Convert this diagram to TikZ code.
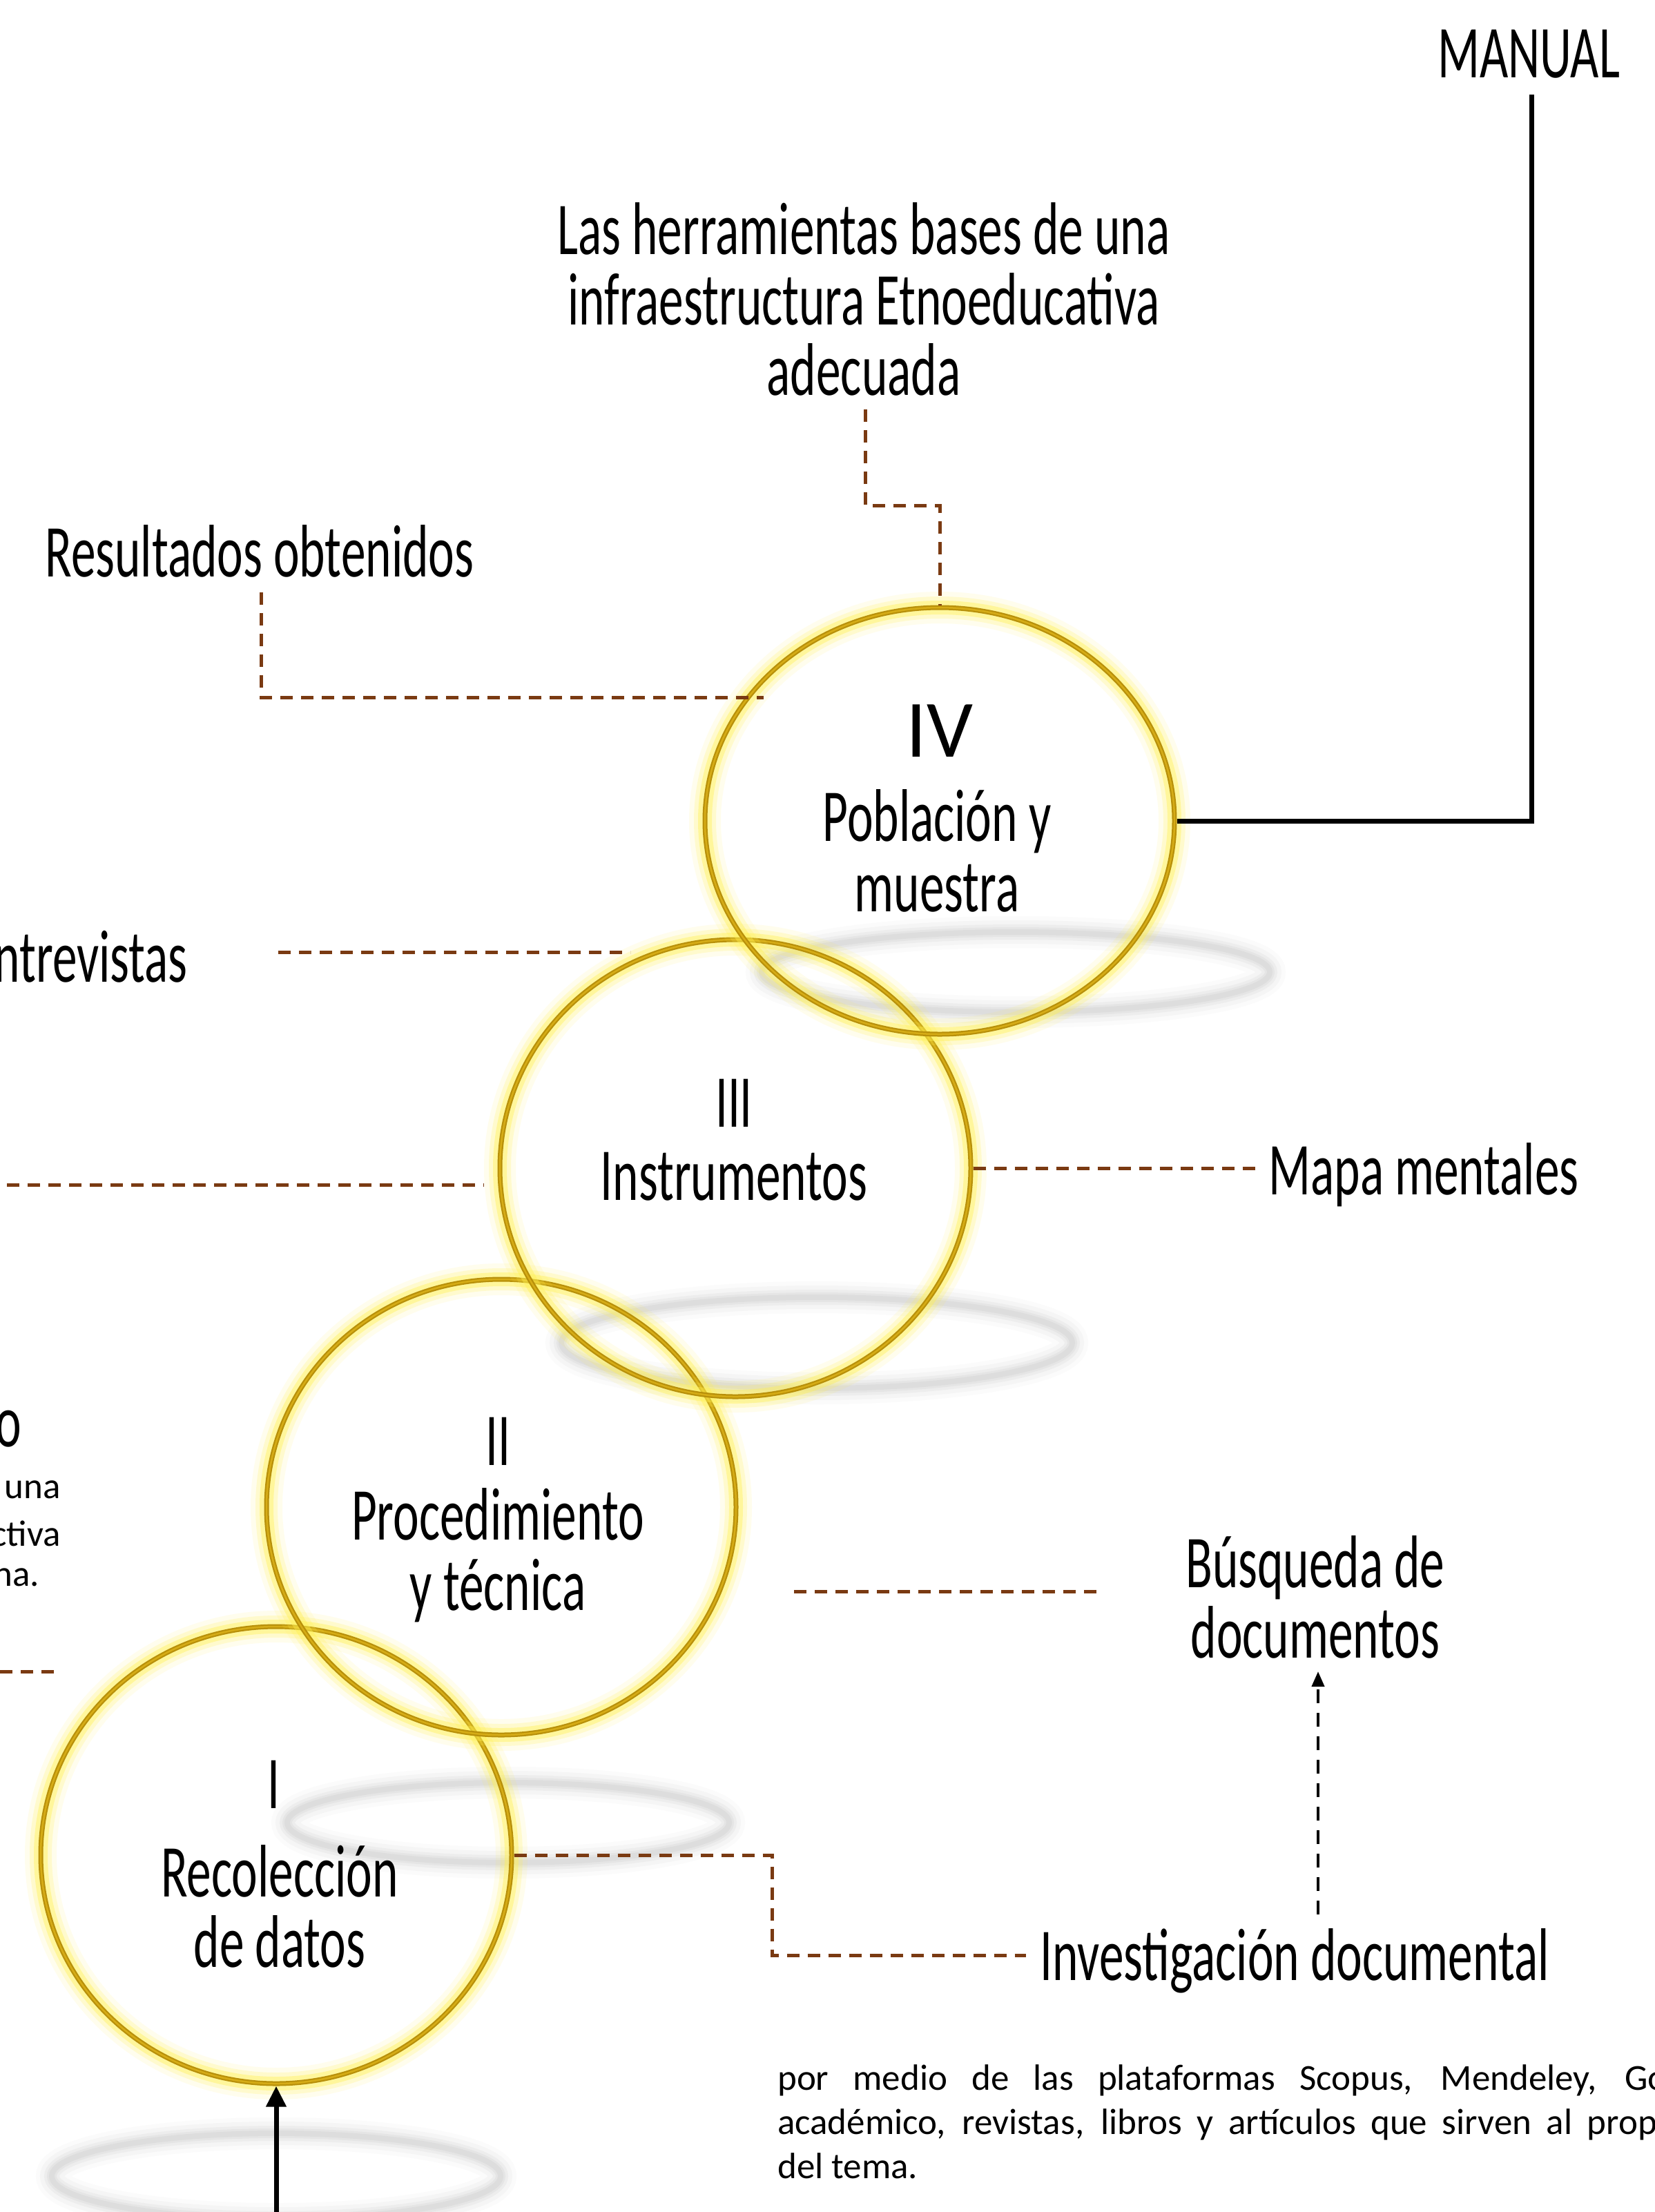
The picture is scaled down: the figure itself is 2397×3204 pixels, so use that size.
\documentclass[tikz,border=0pt]{standalone}
\usepackage{fontspec}
\setmainfont{Carlito}
\newfontfamily\hand[FakeStretch=0.66]{Carlito}
\usetikzlibrary{shapes.geometric,arrows.meta}
\definecolor{ringgold}{HTML}{B8900A}
\definecolor{ringlight}{HTML}{D6AC16}
\definecolor{glowy}{HTML}{FFF050}
\definecolor{brownc}{HTML}{7A3A12}
\definecolor{shadowgray}{HTML}{9A9A9A}
\begin{document}
\begin{tikzpicture}[x=1pt,y=-1pt,
  handtxt/.style={font=\hand\fontsize{108}{102}\selectfont, align=center, inner sep=0pt, text=black},
  numtxt/.style={font=\fontsize{118}{118}\selectfont, inner sep=0pt},
  smalltxt/.style={font=\fontsize{53}{64}\selectfont, inner sep=0pt},
  ringnode/.style={ellipse, inner sep=0pt, draw=ringgold, line width=7pt,
     preaction={draw=glowy, line width=46pt, draw opacity=0.10},
     preaction={draw=glowy, line width=32pt, draw opacity=0.20},
     preaction={draw=glowy, line width=20pt, draw opacity=0.40},
     postaction={draw=ringlight, line width=2.5pt}},
  shadowring/.style={draw=shadowgray, line width=8pt, draw opacity=0.10,
     preaction={draw=shadowgray, line width=46pt, draw opacity=0.04},
     preaction={draw=shadowgray, line width=34pt, draw opacity=0.06},
     preaction={draw=shadowgray, line width=22pt, draw opacity=0.08},
     preaction={draw=shadowgray, line width=14pt, draw opacity=0.09}},
  brownline/.style={draw=brownc, line width=5pt, dash pattern=on 18pt off 12pt},
  blackline/.style={draw=black, line width=7pt}
]
\fill[white] (0,0) rectangle (2397,3204);
\useasboundingbox (0,0) rectangle (2397,3204);
\clip (0,0) rectangle (2397,3204);

% shadows
\draw[shadowring] (1471,1408) ellipse [x radius=368, y radius=58];
\draw[shadowring] (1183,1945) ellipse [x radius=370, y radius=66];
\draw[shadowring] (736,2640) ellipse [x radius=320, y radius=58];
\draw[shadowring] (400,3152) ellipse [x radius=325, y radius=62];

% rings
\node[ringnode, minimum width=682pt, minimum height=662pt] (c1) at (400,2687) {};
\node[ringnode, minimum width=680pt, minimum height=660pt] (c2) at (726,2183) {};
\node[ringnode, minimum width=682pt, minimum height=662pt] (c3) at (1065,1692) {};
\node[ringnode, minimum width=680pt, minimum height=618pt] (c4) at (1361,1189) {};

% texts
\node[handtxt] (manual) at (2214,78) {MANUAL};
\node[handtxt] (herr) at (1251,433) {Las herramientas bases de una\\infraestructura Etnoeducativa\\adecuada};
\node[handtxt] (res) at (376,798) {Resultados obtenidos};
\node[handtxt, anchor=east] (entr) at (272,1386) {Entrevistas};
\node[handtxt, anchor=east] (otxt) at (31,2070) {o};
\node[smalltxt, anchor=east] (sm1) at (88,2158) {una};
\node[smalltxt, anchor=east] (sm2) at (88,2221) {ctiva};
\node[smalltxt, anchor=east] (sm3) at (57,2285) {na.};

\node[numtxt] (n4) at (1361,1059) {IV};
\node[handtxt] (t4) at (1357,1232) {Población y\\muestra};
\node[handtxt] (n3) at (1063,1598) {III};
\node[handtxt] (t3) at (1063,1704) {Instrumentos};
\node[handtxt] (n2) at (721,2088) {II};
\node[handtxt] (t2) at (721,2253) {Procedimiento\\y técnica};
\node[handtxt] (n1) at (396,2585) {I};
\node[handtxt] (t1) at (405,2761) {Recolección\\de datos};

\node[handtxt] (mapa) at (2062,1702) {Mapa mentales};
\node[handtxt] (busq) at (1905,2313) {Búsqueda de\\documentos};
\node[handtxt] (inv) at (1875,2840) {Investigación documental};
\node[anchor=north west, inner sep=0pt, text width=1380pt, align=justify,
      font=\fontsize{53}{64}\selectfont] (para) at (1126,2990)
  {por medio de las plataformas Scopus, Mendeley, Google\linebreak
   académico, revistas, libros y artículos que sirven al propósito\linebreak
   del tema.};

% connector points
\coordinate (h1) at (1253,593);
\coordinate (h2) at (1253,732);
\coordinate (h3) at (1361,732);
\coordinate (r1) at (378,858);
\coordinate (r2) at (1106,1010);
\coordinate (e1) at (403,1379);
\coordinate (e2) at (913,1379);
\coordinate (l1) at (10,1716);
\coordinate (l2) at (701,1716);
\coordinate (q1) at (0,2421);
\coordinate (q2) at (82,2421);
\coordinate (m1) at (1819,1692);
\coordinate (s1) at (1150,2305);
\coordinate (s2) at (1596,2305);
\coordinate (k1) at (1118,2687);
\coordinate (k2) at (1486,2832);
\coordinate (a1) at (1909,2773);
\coordinate (a2) at (1909,2421);
\coordinate (b0) at (400,3204);
\coordinate (mt) at (2218,137);

% connectors
\draw[brownline] (h1) -- (h2) -- (h3) -- (c4.north);
\draw[brownline] (r1) |- (r2);
\draw[brownline] (e1) -- (e2);
\draw[brownline] (l1) -- (l2);
\draw[brownline] (q1) -- (q2);
\draw[brownline] (c3.east) -- (m1);
\draw[brownline] (s1) -- (s2);
\draw[brownline] (c1.east) -- (k1) |- (k2);
\draw[black, line width=4pt, dash pattern=on 20pt off 14pt, -{Triangle[length=22pt,width=18pt]}] (a1) -- (a2);
\draw[blackline, -{Triangle[length=30pt,width=28pt]}] (b0) -- (c1.south);
\draw[blackline] (mt) |- (c4.east);
\end{tikzpicture}
\end{document}
